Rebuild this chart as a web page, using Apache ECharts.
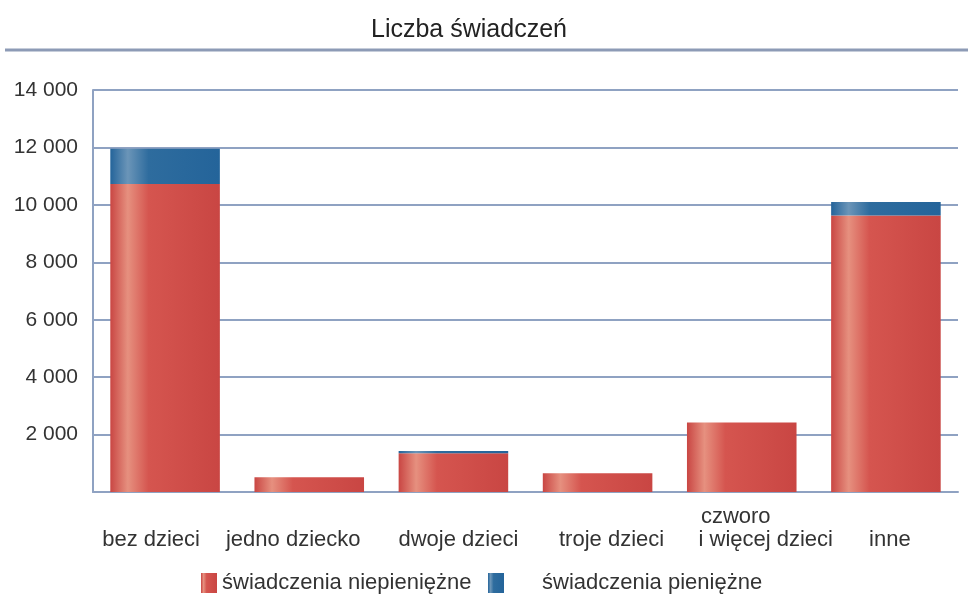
<!DOCTYPE html>
<html>
<head>
<meta charset="utf-8">
<script src="https://cdn.jsdelivr.net/npm/echarts@6/dist/echarts.min.js"></script>
<style>
  html, body { margin: 0; padding: 0; background: #fff; }
  #chart { width: 970px; height: 595px; }
</style>
</head>
<body>
<div id="chart"></div>
<script>
// dane
var kategorie = ['bez dzieci', 'jedno dziecko', 'dwoje dzieci', 'troje dzieci', 'czworo\ni więcej dzieci', 'inne'];
var niepieniezne = [10730, 510, 1350, 650, 2420, 9630];
var pieniezne = [1220, 0, 75, 0, 0, 470];
var nazwySerii = ['świadczenia niepieniężne', 'świadczenia pieniężne'];

// przesunięcie każdej linii podpisu osi X względem środka słupka (px)
var przesunieciePodpisu = [[-14], [-16], [5], [14], [-6, 24], [4]];

var kolorSiatki = '#8fa2c2';
var czcionka = 'Liberation Sans';

function gradient(c1, c2, c3) {
    return new echarts.graphic.LinearGradient(0, 0, 1, 0, [
        { offset: 0, color: c1 },
        { offset: 0.16, color: c2 },
        { offset: 0.35, color: c3 },
        { offset: 1, color: c1 }
    ]);
}

var richPodpisy = {};
przesunieciePodpisu.forEach(function (linie, i) {
    linie.forEach(function (d, j) {
        richPodpisy['p' + i + '_' + j] = {
            fontFamily: czcionka,
            fontSize: 22,
            color: '#333',
            lineHeight: 23,
            padding: d >= 0 ? [0, 0, 0, 2 * d] : [0, -2 * d, 0, 0]
        };
    });
});

var chart = echarts.init(document.getElementById('chart'));
var option = {
    backgroundColor: '#fff',
    animation: false,
    title: {
        text: 'Liczba świadczeń',
        left: 366,
        top: 13,
        textStyle: { fontFamily: czcionka, fontSize: 25, fontWeight: 'normal', color: '#222' }
    },
    graphic: [{
        type: 'line',
        shape: { x1: 5, y1: 50, x2: 968, y2: 50 },
        style: { stroke: '#8d9bb6', lineWidth: 3 }
    }],
    legend: [{
        data: [nazwySerii[0]],
        left: 196,
        top: 567,
        icon: 'rect',
        itemWidth: 16,
        itemHeight: 20,
        itemGap: 4,
        textStyle: { fontFamily: czcionka, fontSize: 22, color: '#333' }
    }, {
        data: [nazwySerii[1]],
        left: 483,
        top: 567,
        icon: 'rect',
        itemWidth: 16,
        itemHeight: 20,
        textStyle: { fontFamily: czcionka, fontSize: 22, color: '#333', padding: [0, 0, 0, 33] }
    }],
    grid: { left: 93, right: 12, top: 90, bottom: 103 },
    xAxis: {
        type: 'category',
        data: kategorie,
        axisLine: { lineStyle: { color: kolorSiatki, width: 2 } },
        axisTick: { show: false },
        axisLabel: {
            fontFamily: czcionka,
            fontSize: 22,
            color: '#333',
            lineHeight: 23,
            verticalAlign: 'bottom',
            margin: 59,
            interval: 0,
            formatter: function (v, i) {
                return v.split('\n').map(function (l, j) {
                    return '{p' + i + '_' + j + '|' + l + '}';
                }).join('\n');
            },
            rich: richPodpisy
        }
    },
    yAxis: {
        type: 'value',
        min: 0,
        max: 14000,
        interval: 2000,
        axisLine: { show: true, lineStyle: { color: kolorSiatki, width: 2 } },
        axisTick: { show: false },
        splitLine: { lineStyle: { color: kolorSiatki, width: 2 } },
        axisLabel: {
            fontFamily: czcionka,
            fontSize: 21,
            color: '#333',
            margin: 15,
            showMinLabel: false,
            formatter: function (v) {
                return v === 0 ? '' : String(v).replace(/\B(?=(\d{3})+(?!\d))/g, ' ');
            }
        }
    },
    series: [{
        name: nazwySerii[0],
        type: 'bar',
        stack: 'suma',
        barWidth: '76%',
        data: niepieniezne,
        itemStyle: { color: gradient('#c94643', '#e6907f', '#d5554f') }
    }, {
        name: nazwySerii[1],
        type: 'bar',
        stack: 'suma',
        barWidth: '76%',
        data: pieniezne,
        itemStyle: { color: gradient('#24649a', '#6b95b8', '#2e6c9e') }
    }]
};
chart.setOption(option);
</script>
</body>
</html>
